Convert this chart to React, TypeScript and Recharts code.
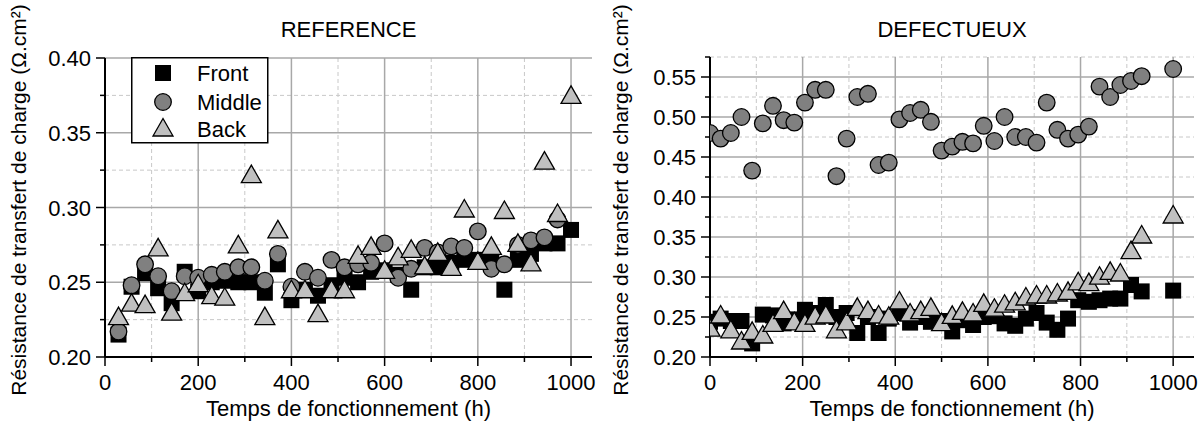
import React from "react";
import { ScatterChart, Scatter, XAxis, YAxis, CartesianGrid, Legend, Label } from "recharts";

// REFERENCE cell, one point every ~28.6 h
const hoursRef = [29, 57, 86, 114, 143, 171, 200, 229, 257, 286, 314, 343, 371, 400, 429, 457, 486, 514, 543, 571, 600, 629, 657, 686, 714, 743, 771, 800, 829, 857, 886, 914, 943, 971, 1000];
const frontRef = [0.215, 0.247, 0.256, 0.246, 0.236, 0.257, 0.244, 0.25, 0.251, 0.25, 0.25, 0.243, 0.262, 0.238, 0.245, 0.241, 0.248, 0.253, 0.25, 0.257, 0.258, 0.255, 0.245, 0.26, 0.26, 0.263, 0.265, 0.265, 0.263, 0.245, 0.265, 0.269, 0.276, 0.276, 0.285];
// no Middle reading visible at 1000 h
const middleRef = [0.217, 0.248, 0.262, 0.254, 0.244, 0.254, 0.253, 0.255, 0.257, 0.26, 0.26, 0.251, 0.269, 0.247, 0.257, 0.253, 0.265, 0.26, 0.262, 0.263, 0.276, 0.253, 0.259, 0.273, 0.27, 0.274, 0.273, 0.284, 0.259, 0.262, 0.275, 0.278, 0.28, 0.292];
const backRef = [0.227, 0.236, 0.235, 0.273, 0.23, 0.243, 0.249, 0.241, 0.24, 0.275, 0.322, 0.227, 0.285, 0.245, 0.245, 0.229, 0.245, 0.245, 0.268, 0.274, 0.258, 0.267, 0.272, 0.261, 0.27, 0.26, 0.299, 0.264, 0.274, 0.298, 0.276, 0.263, 0.331, 0.296, 0.375];

// DEFECTUEUX cell, one point every ~22.7 h
const hoursDef = [0, 23, 45, 68, 91, 114, 136, 159, 182, 205, 227, 250, 273, 295, 318, 341, 364, 386, 409, 432, 455, 477, 500, 523, 545, 568, 591, 614, 636, 659, 682, 705, 727, 750, 773, 795, 818, 841, 864, 886, 909, 932, 1000];
const frontDef = [0.244, 0.248, 0.245, 0.245, 0.217, 0.253, 0.252, 0.242, 0.247, 0.259, 0.255, 0.265, 0.25, 0.255, 0.23, 0.25, 0.23, 0.248, 0.255, 0.243, 0.25, 0.244, 0.245, 0.232, 0.246, 0.24, 0.25, 0.251, 0.242, 0.239, 0.248, 0.255, 0.243, 0.234, 0.248, 0.271, 0.269, 0.271, 0.273, 0.273, 0.29, 0.282, 0.283];
const middleDef = [0.48, 0.473, 0.48, 0.5, 0.433, 0.492, 0.514, 0.496, 0.493, 0.518, 0.534, 0.534, 0.426, 0.473, 0.525, 0.529, 0.44, 0.443, 0.497, 0.505, 0.509, 0.494, 0.458, 0.463, 0.469, 0.467, 0.489, 0.47, 0.5, 0.475, 0.475, 0.468, 0.518, 0.484, 0.473, 0.478, 0.488, 0.538, 0.525, 0.54, 0.545, 0.551, 0.56];
const backDef = [0.236, 0.2525, 0.234, 0.22, 0.232, 0.2275, 0.242, 0.258, 0.244, 0.242, 0.251, 0.2525, 0.234, 0.244, 0.262, 0.258, 0.2525, 0.251, 0.27, 0.255, 0.258, 0.262, 0.243, 0.252, 0.257, 0.255, 0.267, 0.261, 0.266, 0.269, 0.275, 0.2775, 0.2775, 0.28, 0.282, 0.294, 0.293, 0.301, 0.307, 0.305, 0.333, 0.3525, 0.3775];

const xMajor = [0, 200, 400, 600, 800, 1000];
const xMinor = [100, 300, 500, 700, 900];
const yMajorRef = [0.2, 0.25, 0.3, 0.35, 0.4];
const yMinorRef = [0.225, 0.275, 0.325, 0.375];
const yMajorDef = [0.2, 0.25, 0.3, 0.35, 0.4, 0.45, 0.5, 0.55];
const yMinorDef = [0.225, 0.275, 0.325, 0.375, 0.425, 0.475, 0.525, 0.575];

const seriesNames = ["Front", "Middle", "Back"];

const FONT = "'Liberation Sans', Arial, sans-serif";
const Y_TITLE = "Résistance de transfert de charge (Ω.cm²)";

const toPoints = (hours: number[], vals: number[]) =>
	vals.map((v, i) => ({ x: hours[i], y: v }));

const Square = (p: any) => (
	<rect x={p.cx - 8} y={p.cy - 8} width={16} height={16} fill="#000" />
);
const Dot = (p: any) => (
	<circle cx={p.cx} cy={p.cy} r={8.3} fill="#808080" stroke="#000" strokeWidth={1.3} />
);
const Tri = (p: any) => (
	<polygon
		points={`${p.cx},${p.cy - 9.5} ${p.cx - 10},${p.cy + 8} ${p.cx + 10},${p.cy + 8}`}
		fill="#c0c0c0"
		stroke="#000"
		strokeWidth={1.3}
	/>
);

const XTick = (props: any) => {
	const { x, y, payload } = props;
	const major = xMajor.includes(payload.value);
	return (
		<g>
			<line x1={x} y1={y} x2={x} y2={y + (major ? 9 : 5)} stroke="#000" strokeWidth={1.5} />
			{major && (
				<text x={x} y={y + 33} textAnchor="middle" fontSize={22} fontFamily={FONT} fill="#000">
					{payload.value}
				</text>
			)}
		</g>
	);
};

const makeYTick = (majors: number[]) => (props: any) => {
	const { x, y, payload } = props;
	const major = majors.some((m) => Math.abs(m - payload.value) < 1e-9);
	return (
		<g>
			<line x1={x} y1={y} x2={x - (major ? 9 : 5)} y2={y} stroke="#000" strokeWidth={1.5} />
			{major && (
				<text x={x - 14} y={y + 8} textAnchor="end" fontSize={22} fontFamily={FONT} fill="#000">
					{payload.value.toFixed(2)}
				</text>
			)}
		</g>
	);
};

// rotated y title, centred a little above the plot middle like the original
const YTitle = () => (
	<text
		x={18}
		y={200}
		transform="rotate(-90 18 200)"
		textAnchor="middle"
		dominantBaseline="central"
		fontSize={21}
		fontFamily={FONT}
		fill="#000"
	>
		{Y_TITLE}
	</text>
);

const LegendBox = () => (
	<svg width={138} height={87} style={{ display: "block" }}>
		<rect x={0.75} y={0.75} width={136} height={85} fill="#fff" stroke="#000" strokeWidth={1.5} />
		<Square cx={32} cy={16} />
		<Dot cx={32} cy={45} />
		<Tri cx={32} cy={71} />
		{seriesNames.map((n, i) => (
			<text key={n} x={66} y={[16, 45, 72][i] + 8} fontSize={22} fontFamily={FONT} fill="#000">
				{n}
			</text>
		))}
	</svg>
);

interface PanelProps {
	title: string;
	hours: number[];
	front: number[];
	middle: number[];
	back: number[];
	yDomain: [number, number];
	yMajor: number[];
	yMinor: number[];
	top: number;
	yAxisWidth: number;
	showLegend?: boolean;
}

const Panel: React.FC<PanelProps> = ({ title, hours, front, middle, back, yDomain, yMajor, yMinor, top, yAxisWidth, showLegend }) => {
	const yTicks = [...yMajor, ...yMinor].sort((a, b) => a - b);
	const xTicks = [...xMajor, ...xMinor].sort((a, b) => a - b);
	const plotLeft = 10 + yAxisWidth;
	return (
		<div style={{ position: "relative", width: 602, height: 443 }}>
			<div
				style={{
					position: "absolute",
					left: plotLeft,
					width: 602 - 10 - plotLeft,
					top: 17,
					textAlign: "center",
					fontFamily: FONT,
					fontSize: 22,
					lineHeight: "26px",
				}}
			>
				{title}
			</div>
			<ScatterChart width={602} height={443} margin={{ top, right: 10, bottom: 46, left: 10 }}>
				<CartesianGrid
					horizontalValues={yMinor}
					verticalValues={xMinor}
					stroke="#c8c8c8"
					strokeDasharray="4 3"
					strokeWidth={1}
				/>
				<CartesianGrid
					horizontalValues={yMajor}
					verticalValues={xMajor}
					stroke="#a8a8a8"
					strokeWidth={1.5}
				/>
				<XAxis
					type="number"
					dataKey="x"
					domain={[0, 1045]}
					ticks={xTicks}
					interval={0}
					tickSize={0}
					tickMargin={0}
					tickLine={false}
					axisLine={{ stroke: "#000", strokeWidth: 2 }}
					tick={XTick}
					height={40}
					allowDataOverflow
				>
					<Label
						value="Temps de fonctionnement (h)"
						position="bottom"
						offset={3}
						style={{ fontSize: 22, fontFamily: FONT, fill: "#000" }}
					/>
				</XAxis>
				<YAxis
					type="number"
					dataKey="y"
					domain={yDomain}
					ticks={yTicks}
					interval={0}
					tickSize={0}
					tickMargin={0}
					tickLine={false}
					axisLine={{ stroke: "#000", strokeWidth: 2 }}
					tick={makeYTick(yMajor)}
					width={yAxisWidth}
					allowDataOverflow
				>
					<Label content={YTitle} />
				</YAxis>
				{showLegend && (
					<Legend
						layout="vertical"
						align="center"
						verticalAlign="middle"
						wrapperStyle={{ left: 131, top: 57, width: 138 }}
						content={() => <LegendBox />}
					/>
				)}
				<Scatter name="Front" data={toPoints(hours, front)} shape={Square} isAnimationActive={false} />
				<Scatter name="Middle" data={toPoints(hours, middle)} shape={Dot} isAnimationActive={false} />
				<Scatter name="Back" data={toPoints(hours, back)} shape={Tri} isAnimationActive={false} />
			</ScatterChart>
		</div>
	);
};

export default function App() {
	return (
		<div style={{ position: "absolute", left: 0, top: 0, width: 1204, height: 443, background: "#fff", display: "flex" }}>
			<Panel
				title="REFERENCE"
				hours={hoursRef}
				front={frontRef}
				middle={middleRef}
				back={backRef}
				yDomain={[0.2, 0.4]}
				yMajor={yMajorRef}
				yMinor={yMinorRef}
				top={58}
				yAxisWidth={95}
				showLegend
			/>
			<Panel
				title="DEFECTUEUX"
				hours={hoursDef}
				front={frontDef}
				middle={middleDef}
				back={backDef}
				yDomain={[0.2, 0.575]}
				yMajor={yMajorDef}
				yMinor={yMinorDef}
				top={57}
				yAxisWidth={98}
			/>
		</div>
	);
}
